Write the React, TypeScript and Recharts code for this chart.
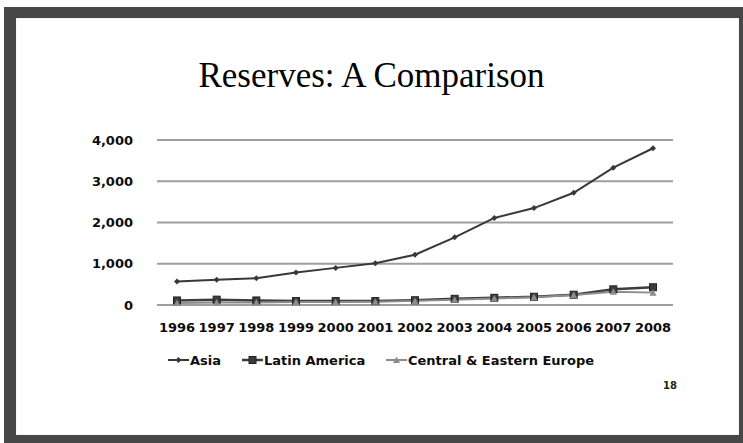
import { LineChart, Line, XAxis, YAxis, CartesianGrid } from "recharts";

const years = ["1996", "1997", "1998", "1999", "2000", "2001", "2002", "2003", "2004", "2005", "2006", "2007", "2008"];
const asia = [570, 610, 650, 790, 900, 1010, 1220, 1640, 2110, 2350, 2720, 3330, 3800];
const latinAmerica = [110, 130, 110, 95, 95, 95, 115, 150, 175, 200, 250, 380, 430];
const centralEurope = [50, 60, 60, 70, 75, 80, 100, 130, 160, 190, 240, 320, 300];
const yTicks = [0, 1000, 2000, 3000, 4000];

const data = years.map((year, i) => ({
  year,
  asia: asia[i],
  latam: latinAmerica[i],
  cee: centralEurope[i],
}));

const tickFont = { fontFamily: "DejaVu Sans", fontWeight: 700, fontSize: 13, fill: "#0d0d0d" };

function Diamond(props: any) {
  const { cx, cy, fill } = props;
  if (cx == null || cy == null) return null;
  return <path d={`M${cx},${cy - 3}L${cx + 3},${cy}L${cx},${cy + 3}L${cx - 3},${cy}Z`} fill={fill} />;
}

function Square(props: any) {
  const { cx, cy, fill } = props;
  if (cx == null || cy == null) return null;
  return <rect x={cx - 3.5} y={cy - 3.5} width={7} height={7} fill={fill} stroke="#222" strokeWidth={1} />;
}

function Triangle(props: any) {
  const { cx, cy, fill } = props;
  if (cx == null || cy == null) return null;
  return <path d={`M${cx},${cy - 3.5}L${cx + 3.5},${cy + 3}L${cx - 3.5},${cy + 3}Z`} fill={fill} />;
}

// legend x positions
const series = [
  { key: "asia", name: "Asia", color: "#383838", width: 2, dot: Diamond, left: 168 },
  { key: "latam", name: "Latin America", color: "#3c3c3c", width: 2.5, dot: Square, left: 242 },
  { key: "cee", name: "Central & Eastern Europe", color: "#8c8c8c", width: 2, dot: Triangle, left: 386 },
];

export default function App() {
  return (
    <div style={{ position: "absolute", left: 0, top: 0, width: 743, height: 443, background: "#fff", overflow: "hidden" }}>
      <div style={{ position: "absolute", left: 4, top: 7, width: 739, height: 436, background: "#474747" }} />
      <div style={{ position: "absolute", left: 16, top: 18, width: 723, height: 417, background: "#fff", boxShadow: "inset 0 0 1px #999" }} />
      <div
        style={{
          position: "absolute",
          left: 0,
          width: 743,
          top: 56,
          textAlign: "center",
          fontFamily: "Liberation Serif",
          fontSize: 35,
          color: "#000",
          lineHeight: "40px",
        }}
      >
        Reserves: A Comparison
      </div>
      <div style={{ position: "absolute", left: 0, top: 0 }}>
        <LineChart width={743} height={443} data={data} margin={{ top: 140, right: 70, left: 0, bottom: 98 }}>
          <CartesianGrid vertical={false} stroke="#9f9f9f" strokeWidth={2} />
          <XAxis
            dataKey="year"
            padding={{ left: 20, right: 20 }}
            axisLine={{ stroke: "#9f9f9f", strokeWidth: 2 }}
            tickLine={false}
            tickSize={0}
            tickMargin={18}
            height={40}
            interval={0}
            tick={tickFont}
          />
          <YAxis
            domain={[0, 4000]}
            ticks={yTicks}
            width={157}
            axisLine={false}
            tickLine={false}
            tickSize={0}
            tickMargin={24}
            tick={tickFont}
            tickFormatter={(v: number) => v.toLocaleString("en-US")}
          />
          {series.map((s) => {
            const Dot = s.dot;
            return (
              <Line
                key={s.key}
                type="linear"
                dataKey={s.key}
                name={s.name}
                stroke={s.color}
                strokeWidth={s.width}
                dot={(p: any) => <Dot key={`${s.key}-${p.index}`} cx={p.cx} cy={p.cy} fill={s.color} />}
                activeDot={false}
                isAnimationActive={false}
              />
            );
          })}
        </LineChart>
      </div>
      {series.map((s) => {
        const Dot = s.dot;
        return (
          <div
            key={s.key}
            style={{ position: "absolute", left: s.left, top: 351, height: 18, display: "flex", alignItems: "center" }}
          >
            <svg width={21} height={18}>
              <line x1={0} y1={9} x2={21} y2={9} stroke={s.color} strokeWidth={s.width} />
              <Dot cx={10.5} cy={9} fill={s.color} />
            </svg>
            <span style={{ fontFamily: "DejaVu Sans", fontWeight: 700, fontSize: 13, color: "#0d0d0d", marginLeft: 1 }}>
              {s.name}
            </span>
          </div>
        );
      })}
      <div
        style={{ position: "absolute", left: 663, top: 380, fontFamily: "DejaVu Sans", fontWeight: 700, fontSize: 10, color: "#222" }}
      >
        18
      </div>
    </div>
  );
}
